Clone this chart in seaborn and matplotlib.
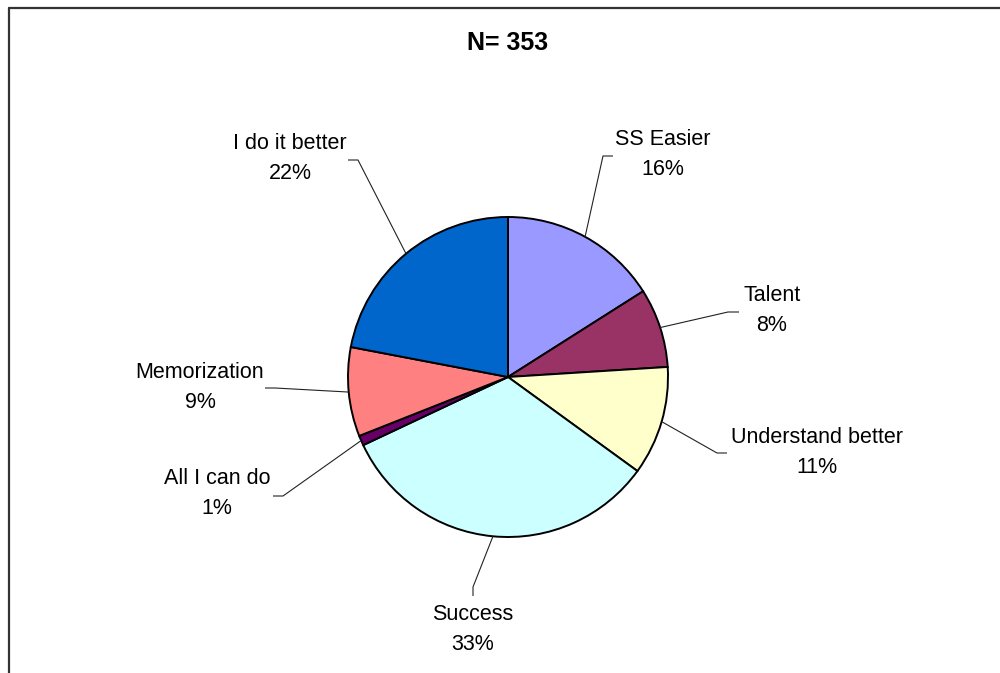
import numpy as np
import matplotlib
matplotlib.use("Agg")
import matplotlib.pyplot as plt
from matplotlib.lines import Line2D
import seaborn as sns

# Survey responses (share of answers, percent)
categories = ["SS Easier", "Talent", "Understand better", "Success",
              "All I can do", "Memorization", "I do it better"]
percentages = [16, 8, 11, 33, 1, 9, 22]
colors = ["#9999FF", "#993366", "#FFFFCC", "#CCFFFF",
          "#660066", "#FF8080", "#0066CC"]
title = "N= 353"

sns.set_theme(style="white")
plt.rcParams["font.family"] = ["Liberation Sans", "DejaVu Sans"]

# Canvas geometry in pixels
W, H = 1000, 673
CX, CY, R = 508, 377, 160

# Label placement (pixels): text block centre, leader elbow, leader stub end
label_layout = {
    "SS Easier":         ((663, 154), (603, 156), (613, 156)),
    "Talent":            ((772, 310), (728, 312), (739, 312)),
    "Understand better": ((817, 452), (717, 453), (727, 453)),
    "Success":           ((473, 630), (473, 587), (473, 596)),
    "All I can do":      ((217, 493), (283, 496), (273, 496)),
    "Memorization":      ((200, 387), (275, 388), (265, 388)),
    "I do it better":    ((290, 158), (358, 160), (348, 160)),
}


def to_data(p):
    return (p[0] - CX) / R, (CY - p[1]) / R


fig = plt.figure(figsize=(W / 100, H / 100), dpi=100)
ax = fig.add_axes([0, 0, 1, 1])

wedges, _ = ax.pie(
    percentages, colors=colors, startangle=90, counterclock=False,
    radius=1, center=(0, 0),
    wedgeprops=dict(edgecolor="black", linewidth=1.4), frame=False,
)
ax.set_aspect("auto")
ax.set_xlim(-CX / R, (W - CX) / R)
ax.set_ylim((CY - H) / R, CY / R)
ax.set_axis_off()

for wedge, name, pct in zip(wedges, categories, percentages):
    centre, elbow, stub = label_layout[name]
    mid = np.deg2rad((wedge.theta1 + wedge.theta2) / 2)
    rim = (np.cos(mid), np.sin(mid))
    ex, ey = to_data(elbow)
    sx, sy = to_data(stub)
    ax.plot([rim[0], ex, sx], [rim[1], ey, sy], color="#222222", lw=0.8,
            solid_capstyle="butt", zorder=1)
    tx, ty = to_data((centre[0], centre[1] - 15))
    ax.text(tx, ty, name, ha="center", va="center", fontsize=15.5, color="black")
    px, py = to_data((centre[0], centre[1] + 15))
    ax.text(px, py, f"{pct}%", ha="center", va="center", fontsize=15.5, color="black")

fig.text(508 / W, 1 - 43 / H, title, ha="center", va="center",
         fontsize=18, fontweight="bold", color="black")

# Chart-area border (left and top edges)
fig.add_artist(Line2D([9 / W, 9 / W], [0, 1 - 7.5 / H], transform=fig.transFigure,
                      color="#333333", lw=1.6))
fig.add_artist(Line2D([9 / W, 1], [1 - 7.5 / H, 1 - 7.5 / H], transform=fig.transFigure,
                      color="#333333", lw=1.6))

fig.savefig("out.png", dpi=100)
